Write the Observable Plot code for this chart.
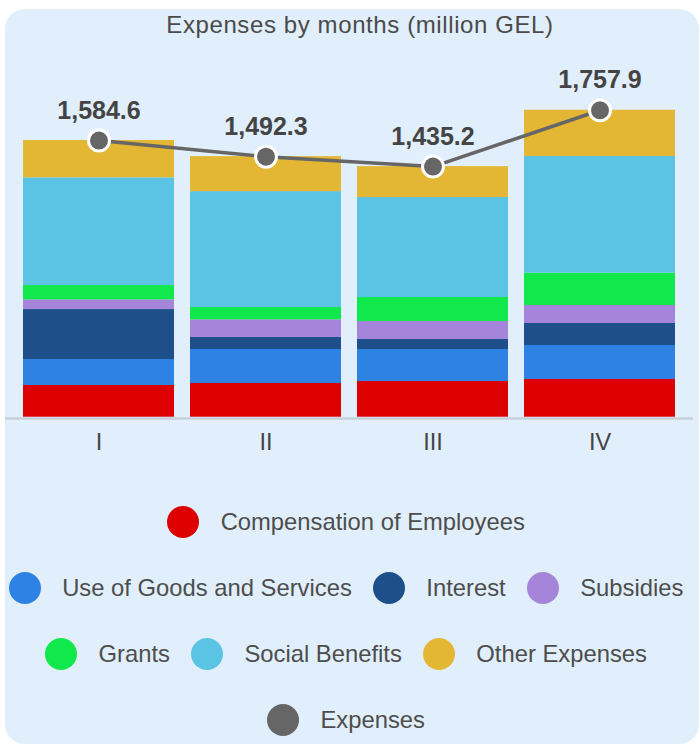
<!DOCTYPE html>
<html>
<head>
<meta charset="utf-8">
<script src="https://cdn.jsdelivr.net/npm/d3@7"></script>
<script src="https://cdn.jsdelivr.net/npm/@observablehq/plot@0.6"></script>
<style>
  html, body { margin: 0; padding: 0; background: #ffffff; }
  body { width: 700px; height: 744px; overflow: hidden; position: relative; font-family: "Liberation Sans", Arial, sans-serif; }
  #panel { position: absolute; left: 5px; top: 9px; width: 694px; height: 735px; background: #e1effc; border-radius: 20px; }
  #title { height: 32px; line-height: 32px; font-size: 24px; color: #4a4a4a; text-align: center; padding-left: 16px; letter-spacing: 0.6px; white-space: nowrap; }
  #chart { margin-left: -5px; width: 700px; height: 420px; }
  #legend { padding-top: 28px; padding-right: 12px; }
  .row { height: 66px; display: flex; justify-content: center; align-items: center; gap: 21px; }
  .item { display: flex; align-items: center; gap: 21.5px; font-size: 23.8px; color: #4d4d4d; white-space: nowrap; }
  .sw { width: 32px; height: 32px; border-radius: 50%; flex: none; }
</style>
</head>
<body>
<div id="panel">
  <div id="title">Expenses by months (million GEL)</div>
  <div id="chart"></div>
  <div id="legend"></div>
</div>
<script>
const months = ["I", "II", "III", "IV"];
const categories = ["Compensation of Employees", "Use of Goods and Services", "Interest", "Subsidies", "Grants", "Social Benefits", "Other Expenses"];
const colors = ["#dd0000", "#2e82e4", "#1e4f8a", "#a585da", "#10e84b", "#5bc4e4", "#e3b734"];
const compensation = [181.5, 193.0, 204.3, 215.9];
const goodsServices = [149.0, 194.7, 183.3, 194.7];
const interest = [286.0, 68.7, 57.3, 126.0];
const subsidies = [55.5, 101.2, 103.1, 103.1];
const grants = [82.0, 70.6, 137.4, 185.0];
const socialBenefits = [617.0, 663.7, 572.7, 668.3];
const otherExpenses = [213.6, 200.4, 177.1, 264.9];
const totalLabel = "Expenses";
const totals = [1584.6, 1492.3, 1435.2, 1757.9];
const legendRows = [[0], [1, 2, 3], [4, 5, 6], [-1]];

const series = [compensation, goodsServices, interest, subsidies, grants, socialBenefits, otherExpenses];
const stacked = [];
months.forEach((m, i) => {
  categories.forEach((c, k) => stacked.push({month: m, category: c, value: series[k][i]}));
});
const totalData = months.map((m, i) => ({month: m, value: totals[i]}));
const fmt = d3.format(",.1f");

const chart = Plot.plot({
  width: 700,
  height: 420,
  marginLeft: 5,
  marginRight: 7,
  marginTop: 26.5,
  marginBottom: 44.3,
  style: {background: "transparent", color: "#444", fontFamily: "'Liberation Sans', Arial, sans-serif", overflow: "visible"},
  x: {domain: months, paddingInner: 16 / 167, paddingOuter: 18 / 167, round: false, label: null},
  y: {domain: [0, 2000], axis: null},
  color: {domain: categories, range: colors},
  marks: [
    Plot.barY(stacked, {x: "month", y: "value", fill: "category", inset: 0}),
    Plot.ruleY([0], {stroke: "#c8d0d9", strokeWidth: 2.6, dy: 1.3}),
    Plot.axisX({tickSize: 0, tickPadding: 16.6, fontSize: 23.5, fill: "#444", label: null}),
    Plot.line(totalData, {x: "month", y: "value", stroke: "#666666", strokeWidth: 3.5}),
    Plot.dot(totalData, {x: "month", y: "value", r: 10.5, fill: "#666666", stroke: "#ffffff", strokeWidth: 3}),
    Plot.text(totalData, {x: "month", y: "value", text: d => fmt(d.value), dy: -30, fontSize: 25, fontWeight: "bold", fill: "#444"})
  ]
});
document.getElementById("chart").appendChild(chart);

const legend = document.getElementById("legend");
legendRows.forEach(row => {
  const r = document.createElement("div");
  r.className = "row";
  row.forEach(k => {
    const it = document.createElement("div");
    it.className = "item";
    const sw = document.createElement("span");
    sw.className = "sw";
    sw.style.background = k < 0 ? "#666666" : colors[k];
    const t = document.createElement("span");
    t.textContent = k < 0 ? totalLabel : categories[k];
    it.appendChild(sw);
    it.appendChild(t);
    r.appendChild(it);
  });
  legend.appendChild(r);
});
</script>
</body>
</html>
